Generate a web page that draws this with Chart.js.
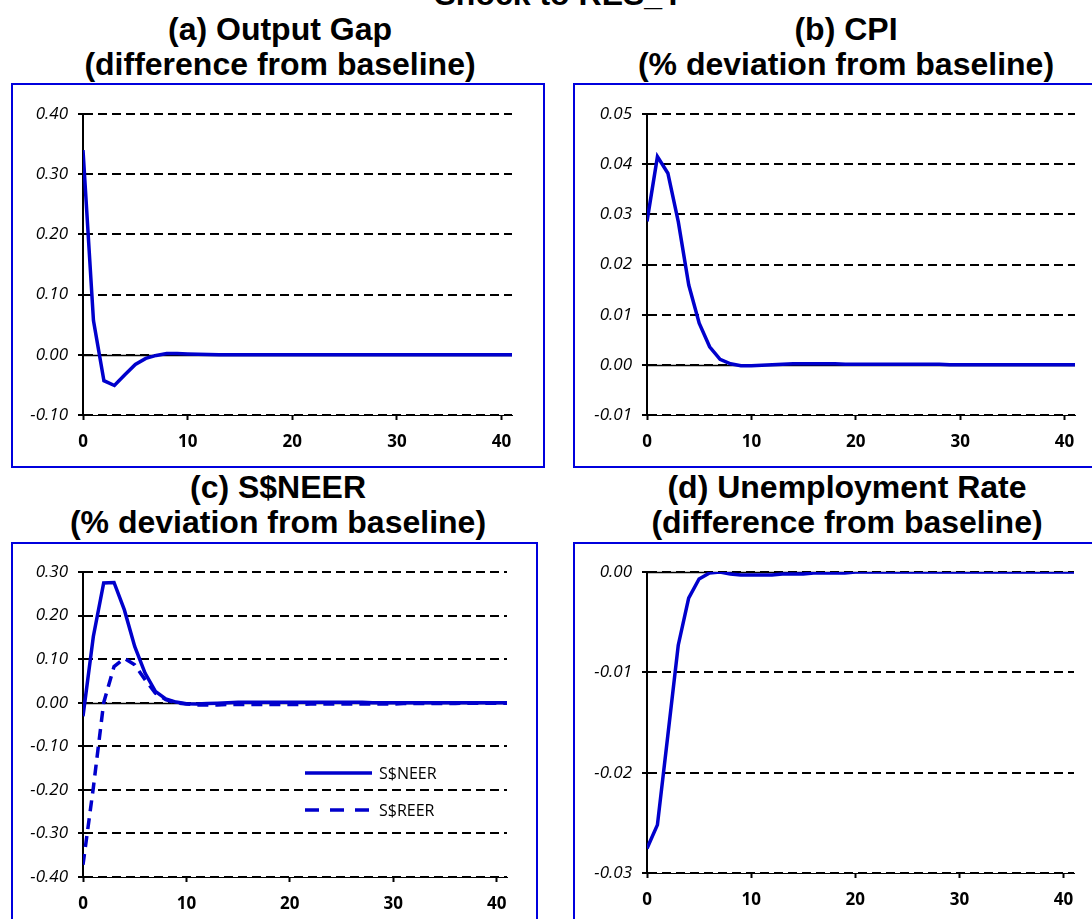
<!DOCTYPE html>
<html>
<head>
<meta charset="utf-8">
<script src="https://cdn.jsdelivr.net/npm/chart.js@4.4.1/dist/chart.umd.min.js"></script>
<style>
  html, body { margin: 0; padding: 0; background: #fff; }
  body { width: 1092px; height: 919px; overflow: hidden; position: relative; font-family: 'Liberation Sans', Arial, sans-serif; }
  .title { position: absolute; width: 640px; text-align: center; font-weight: bold; font-size: 32px; line-height: 35px; color: #000; white-space: nowrap; }
  .box { position: absolute; border: 2px solid #0000dd; }
  .box canvas { display: block; }
</style>
</head>
<body>
<div class="title" style="left:239px; top:-23px;">Shock to RES_Y</div>
<div class="title" style="left:-40px; top:12px;">(a) Output Gap<br>(difference from baseline)</div>
<div class="title" style="left:526px; top:12px;">(b) CPI<br>(% deviation from baseline)</div>
<div class="title" style="left:-42px; top:470px;">(c) S$NEER<br>(% deviation from baseline)</div>
<div class="title" style="left:527px; top:470px;">(d) Unemployment Rate<br>(difference from baseline)</div>

<div class="box" id="boxA"><canvas id="chartA"></canvas></div>
<div class="box" id="boxB"><canvas id="chartB"></canvas></div>
<div class="box" id="boxC"><canvas id="chartC"></canvas></div>
<div class="box" id="boxD"><canvas id="chartD"></canvas></div>

<script>
// quarters after the shock
const periods = [0, 1, 2, 3, 4, 5, 6, 7, 8, 9, 10, 11, 12, 13, 14, 15, 16, 17, 18, 19, 20,
  21, 22, 23, 24, 25, 26, 27, 28, 29, 30, 31, 32, 33, 34, 35, 36, 37, 38, 39, 40, 41];
const xTicks = [0, 10, 20, 30, 40];

const outputGap = [0.34, 0.057, -0.043, -0.051, -0.033, -0.016, -0.006, -0.001, 0.002, 0.002,
  0.0015, 0.001, 0.0005, 0.0002, 0, 0, 0, 0, 0, 0, 0, 0, 0, 0, 0, 0, 0, 0, 0, 0,
  0, 0, 0, 0, 0, 0, 0, 0, 0, 0, 0, 0];
const cpi = [0.0286, 0.0415, 0.0382, 0.0285, 0.0159, 0.0083, 0.0036, 0.0011, 0.0002, -0.0002,
  -0.0002, -0.0001, 0, 0.0001, 0.0002, 0.0002, 0.0002, 0.0002, 0.0002, 0.0001,
  0.0001, 0.0001, 0.0001, 0.0001, 0.0001, 0.0001, 0.0001, 0.0001, 0.0001, 0,
  0, 0, 0, 0, 0, 0, 0, 0, 0, 0, 0, 0];
const neer = [-0.031, 0.152, 0.275, 0.276, 0.213, 0.129, 0.068, 0.026, 0.0085, 0.0015,
  -0.0025, -0.003, -0.002, -0.001, 0, 0.001, 0.001, 0.001, 0.001, 0.001,
  0.001, 0.001, 0.001, 0.001, 0.001, 0.001, 0.001, 0.001, 0, 0,
  0, 0, 0, 0, 0, 0, 0, 0, 0, 0, 0, 0];
const reer = [-0.372, -0.195, 0, 0.083, 0.102, 0.087, 0.053, 0.022, 0.007, 0,
  -0.003, -0.005, -0.005, -0.005, -0.004, -0.004, -0.004, -0.004, -0.004, -0.004,
  -0.004, -0.004, -0.003, -0.003, -0.003, -0.003, -0.003, -0.003, -0.003, -0.003,
  -0.003, -0.002, -0.002, -0.002, -0.002, -0.002, -0.002, -0.001, -0.001, -0.001, -0.001, -0.001];
const unemp = [-0.02755, -0.0252, -0.0163, -0.0073, -0.0026, -0.0007, -0.0001, 0, -0.0002, -0.0003,
  -0.0003, -0.0003, -0.0003, -0.0002, -0.0002, -0.0002, -0.0001, -0.0001, -0.0001, -0.0001,
  0, 0, 0, 0, 0, 0, 0, 0, 0, 0, 0, 0, 0, 0, 0, 0, 0, 0, 0, 0, 0, 0];

const BLUE = '#0000cc';

// solid black line at y = 0 (grid lines are dashed)
const zeroLine = {
  id: 'zeroLine',
  beforeDatasetsDraw(chart) {
    const { ctx, chartArea: a, scales: { y } } = chart;
    const py = Math.round(y.getPixelForValue(0)) + 0.5;
    ctx.save();
    ctx.strokeStyle = '#000';
    ctx.lineWidth = 1.5;
    ctx.beginPath();
    ctx.moveTo(a.left, py);
    ctx.lineTo(a.right, py);
    ctx.stroke();
    ctx.restore();
  },
};

// legend drawn inside the plot like the Excel one
const lineLegend = {
  id: 'lineLegend',
  afterDatasetsDraw(chart, args, opts) {
    if (!opts.items) return;
    const { ctx } = chart;
    opts.items.forEach((it, i) => {
      const ds = chart.data.datasets[i];
      ctx.save();
      ctx.strokeStyle = ds.borderColor;
      ctx.lineWidth = ds.borderWidth;
      ctx.setLineDash(it.dash || []);
      ctx.beginPath();
      ctx.moveTo(opts.x1, it.y);
      ctx.lineTo(opts.x2, it.y);
      ctx.stroke();
      ctx.setLineDash([]);
      ctx.fillStyle = '#000';
      ctx.font = '16px "Open Sans"';
      ctx.textBaseline = 'middle';
      ctx.fillText(ds.label, opts.x2 + 7, it.y + 1);
      ctx.restore();
    });
  },
};

function makeChart(key, box, plot, yMin, yMax, yStep, series, legend) {
  const wrap = document.getElementById('box' + key);
  wrap.style.left = (box.x - 1) + 'px';
  wrap.style.top = (box.y - 1) + 'px';
  const ox = box.x + 1, oy = box.y + 1;
  const cw = box.w - 2, ch = box.h - 2;
  const canvas = document.getElementById('chart' + key);
  canvas.width = cw;
  canvas.height = ch;
  canvas.style.width = cw + 'px';
  canvas.style.height = ch + 'px';
  wrap.style.width = cw + 'px';
  wrap.style.height = ch + 'px';

  const yAxisW = plot.l - ox;
  const xAxisH = oy + ch - plot.b;

  const plugins = { legend: { display: false }, tooltip: { enabled: false } };
  if (legend) {
    plugins.lineLegend = {
      x1: legend.x1 - ox, x2: legend.x2 - ox,
      items: legend.items.map(it => ({ y: it.y - oy, dash: it.dash })),
    };
  }

  return new Chart(canvas, {
    type: 'line',
    data: {
      datasets: series.map(s => ({
        label: s.label,
        data: s.values.map((v, i) => ({ x: periods[i], y: v })),
        borderColor: BLUE,
        borderWidth: 3.5,
        borderDash: s.dash || [],
        pointRadius: 0,
        tension: 0,
        fill: false,
      })),
    },
    options: {
      responsive: false,
      animation: false,
      events: [],
      layout: { padding: { top: plot.t - oy, right: ox + cw - plot.r, bottom: 0, left: 0 } },
      plugins,
      scales: {
        x: {
          type: 'linear',
          min: 0,
          max: periods[periods.length - 1],
          afterFit: s => { s.height = xAxisH; },
          afterBuildTicks: s => { s.ticks = xTicks.map(v => ({ value: v })); },
          ticks: {
            color: '#000', padding: 12, maxRotation: 0, autoSkip: false,
            font: { family: 'Open Sans', size: 17, weight: 'bold' },
          },
          grid: { drawOnChartArea: false, drawTicks: true, tickLength: 5, tickColor: '#000', tickWidth: 2 },
          border: { display: true, color: '#000', width: 1 },
        },
        y: {
          min: yMin,
          max: yMax,
          afterFit: s => { s.width = yAxisW; },
          ticks: {
            stepSize: yStep, color: '#000', padding: 10,
            font: { family: 'Open Sans', size: 17, style: 'italic' },
            callback: v => (Math.abs(v) < 1e-9 ? 0 : v).toFixed(2),
          },
          grid: { color: '#000', lineWidth: 2, drawTicks: true, tickLength: 5, tickColor: '#000', tickWidth: 2 },
          border: { display: true, color: '#000', width: 2, dash: [9, 5] },
        },
      },
    },
    plugins: [zeroLine, lineLegend],
  });
}

makeChart('A', { x: 12, y: 84, w: 532, h: 383 }, { l: 83, r: 512, t: 114, b: 415 },
  -0.1, 0.4, 0.1, [{ label: 'Output Gap', values: outputGap }]);
makeChart('B', { x: 574, y: 84, w: 544, h: 383 }, { l: 647, r: 1075, t: 114, b: 415 },
  -0.01, 0.05, 0.01, [{ label: 'CPI', values: cpi }]);
makeChart('C', { x: 12, y: 543, w: 525, h: 400 }, { l: 83, r: 507, t: 572, b: 877 },
  -0.4, 0.3, 0.1, [
    { label: 'S$NEER', values: neer },
    { label: 'S$REER', values: reer, dash: [11, 7] },
  ],
  { x1: 305, x2: 372, items: [{ y: 773 }, { y: 810, dash: [14, 11] }] });
makeChart('D', { x: 574, y: 543, w: 544, h: 400 }, { l: 647, r: 1074, t: 572, b: 873 },
  -0.03, 0, 0.01, [{ label: 'Unemployment Rate', values: unemp }]);
</script>
</body>
</html>
